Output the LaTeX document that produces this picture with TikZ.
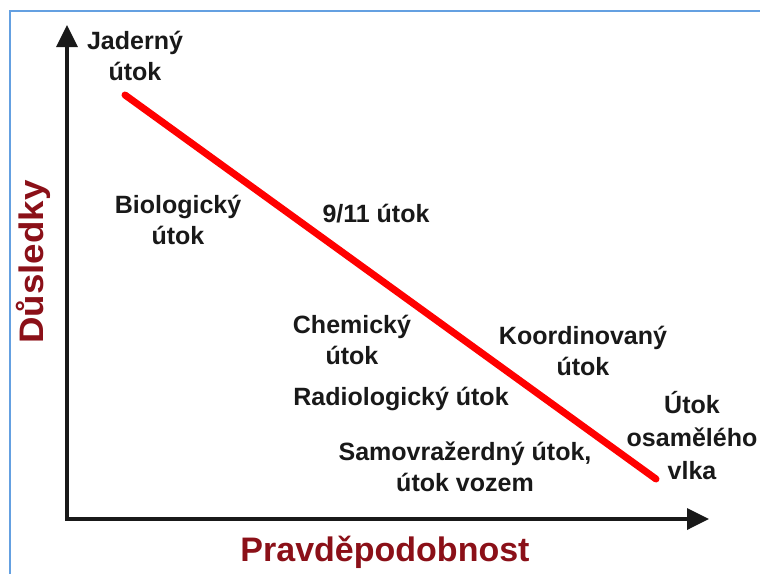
\documentclass[tikz,border=0pt]{standalone}
\usepackage{fontspec}
\setmainfont{Liberation Sans}
\usetikzlibrary{arrows.meta}
\definecolor{axred}{RGB}{139,16,24}
\definecolor{frameblue}{RGB}{100,160,225}
\begin{document}
\begin{tikzpicture}[x=1pt,y=-1pt,
  lbl/.style={font=\fontsize{25}{31}\selectfont\bfseries, text=black!90, align=center, inner sep=0pt},
  axlbl/.style={font=\fontsize{34}{40}\selectfont\bfseries, text=axred, inner sep=0pt},
  axis/.style={line width=3.5pt, black!90, -{Triangle[length=22pt,width=21pt]}},
  riskline/.style={line width=7pt, red, line cap=round}]
\useasboundingbox (0,0) rectangle (760,574);
\fill[white] (0,0) rectangle (760,574);
\draw[frameblue, line width=2pt] (10,574) -- (10,11) -- (760,11);
% axes
\coordinate (o) at (67,519);
\coordinate (ytip) at (67,25);
\coordinate (xtip) at (709,519);
\draw[axis] ([yshift=-1.7pt]o) -- (ytip);
\draw[axis] ([xshift=-1.7pt]o) -- (xtip);
% red line
\coordinate (rs) at (125,95);
\coordinate (re) at (656,479);
\draw[riskline] (rs) -- (re);
% labels
\node[lbl] (jad) at (135,56) {Jaderný\\útok};
\node[lbl] (bio) at (178,220) {Biologický\\útok};
\node[lbl] (nine) at (376,214) {9/11 útok};
\node[lbl] (chem) at (352,340) {Chemický\\útok};
\node[lbl] (koord) at (583,351) {Koordinovaný\\útok};
\node[lbl] (radio) at (401,399) {Radiologický útok};
\node[lbl] (sam) at (465,467) {Samovražerdný útok,\\útok vozem};
\node[lbl, font=\fontsize{25}{33}\selectfont\bfseries] (vlk) at (692,436) {Útok\\osamělého\\vlka};
\node[axlbl, rotate=90] (dus) at (33,262) {\scalebox{1.08}[1]{Důsledky}};
\node[axlbl] (prav) at (385,552) {Pravděpodobnost};
\end{tikzpicture}
\end{document}
